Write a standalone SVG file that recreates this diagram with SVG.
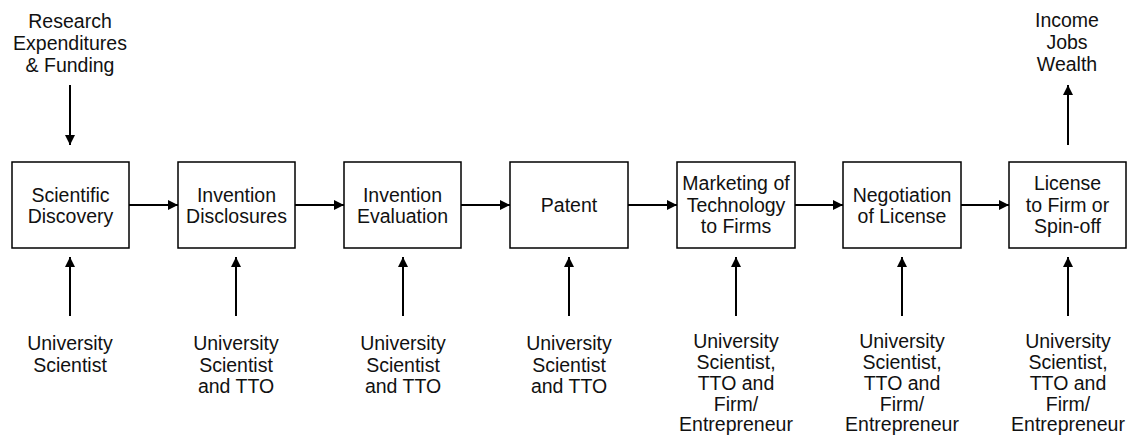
<svg xmlns="http://www.w3.org/2000/svg" width="1128" height="436" viewBox="0 0 1128 436">
<style>
.box{fill:#fff;stroke:#000;stroke-width:1.5}
.t{font-family:"Liberation Sans",Arial,sans-serif;font-size:19.5px;fill:#111;text-anchor:middle}
.c{stroke:#000;stroke-width:2;fill:none;marker-end:url(#ah)}
</style>
<defs>
<marker id="ah" viewBox="0 0 10 10" refX="10" refY="5" markerWidth="5" markerHeight="5" orient="auto" markerUnits="strokeWidth">
<path d="M0,0 L10,5 L0,10 z" fill="#000"/>
</marker>
</defs>
<rect width="1128" height="436" fill="#fff"/>
<g id="connectors">
<line class="c" x1="129" y1="205" x2="178" y2="205"/>
<line class="c" x1="295" y1="205" x2="344" y2="205"/>
<line class="c" x1="461" y1="205" x2="510" y2="205"/>
<line class="c" x1="628" y1="205" x2="677" y2="205"/>
<line class="c" x1="795" y1="205" x2="843" y2="205"/>
<line class="c" x1="961" y1="205" x2="1009" y2="205"/>
<line class="c" x1="70" y1="85" x2="70" y2="145"/>
<line class="c" x1="1068" y1="145" x2="1068" y2="85"/>
<line class="c" x1="70" y1="316" x2="70" y2="257"/>
<line class="c" x1="236" y1="316" x2="236" y2="257"/>
<line class="c" x1="403" y1="316" x2="403" y2="257"/>
<line class="c" x1="569" y1="316" x2="569" y2="257"/>
<line class="c" x1="736" y1="316" x2="736" y2="257"/>
<line class="c" x1="902" y1="316" x2="902" y2="257"/>
<line class="c" x1="1068" y1="316" x2="1068" y2="257"/>
</g>
<g id="research">
<text class="t" x="70" y="28">Research</text>
<text class="t" x="70" y="50">Expenditures</text>
<text class="t" x="70" y="71.5">&amp; Funding</text>
</g>
<g id="income">
<text class="t" x="1067" y="27">Income</text>
<text class="t" x="1067" y="48.5">Jobs</text>
<text class="t" x="1067" y="70.5">Wealth</text>
</g>
<g id="n1">
<rect class="box" x="12" y="162" width="117" height="86"/>
<text class="t" x="70.5" y="201.5">Scientific</text>
<text class="t" x="70.5" y="223">Discovery</text>
</g>
<g id="n2">
<rect class="box" x="178" y="162" width="117" height="86"/>
<text class="t" x="236.5" y="201.5">Invention</text>
<text class="t" x="236.5" y="223">Disclosures</text>
</g>
<g id="n3">
<rect class="box" x="344" y="162" width="117" height="86"/>
<text class="t" x="402.5" y="201.5">Invention</text>
<text class="t" x="402.5" y="223">Evaluation</text>
</g>
<g id="n4">
<rect class="box" x="510" y="162" width="118" height="86"/>
<text class="t" x="569" y="212">Patent</text>
</g>
<g id="n5">
<rect class="box" x="677" y="162" width="118" height="86"/>
<text class="t" x="736" y="190">Marketing of</text>
<text class="t" x="736" y="211.5">Technology</text>
<text class="t" x="736" y="233">to Firms</text>
</g>
<g id="n6">
<rect class="box" x="843" y="162" width="118" height="86"/>
<text class="t" x="902" y="201.5">Negotiation</text>
<text class="t" x="902" y="223">of License</text>
</g>
<g id="n7">
<rect class="box" x="1009" y="162" width="117" height="86"/>
<text class="t" x="1067.5" y="190">License</text>
<text class="t" x="1067.5" y="211.5">to Firm or</text>
<text class="t" x="1067.5" y="233">Spin-off</text>
</g>
<g id="a1">
<text class="t" x="70" y="350">University</text>
<text class="t" x="70" y="371.5">Scientist</text>
</g>
<g id="a2">
<text class="t" x="236" y="350">University</text>
<text class="t" x="236" y="371.5">Scientist</text>
<text class="t" x="236" y="393">and TTO</text>
</g>
<g id="a3">
<text class="t" x="403" y="350">University</text>
<text class="t" x="403" y="371.5">Scientist</text>
<text class="t" x="403" y="393">and TTO</text>
</g>
<g id="a4">
<text class="t" x="569" y="350">University</text>
<text class="t" x="569" y="371.5">Scientist</text>
<text class="t" x="569" y="393">and TTO</text>
</g>
<g id="a5">
<text class="t" x="736" y="347.5">University</text>
<text class="t" x="736" y="368.5">Scientist,</text>
<text class="t" x="736" y="389.5">TTO and</text>
<text class="t" x="736" y="410.5">Firm/</text>
<text class="t" x="736" y="431">Entrepreneur</text>
</g>
<g id="a6">
<text class="t" x="902" y="347.5">University</text>
<text class="t" x="902" y="368.5">Scientist,</text>
<text class="t" x="902" y="389.5">TTO and</text>
<text class="t" x="902" y="410.5">Firm/</text>
<text class="t" x="902" y="431">Entrepreneur</text>
</g>
<g id="a7">
<text class="t" x="1068" y="347.5">University</text>
<text class="t" x="1068" y="368.5">Scientist,</text>
<text class="t" x="1068" y="389.5">TTO and</text>
<text class="t" x="1068" y="410.5">Firm/</text>
<text class="t" x="1068" y="431">Entrepreneur</text>
</g>
</svg>
